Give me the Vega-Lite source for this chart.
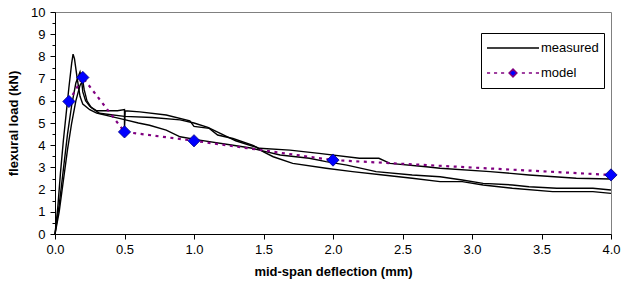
{
  "$schema": "https://vega.github.io/schema/vega-lite/v6.json",
  "width": 556,
  "height": 222,
  "autosize": {"type": "none"},
  "padding": {"left": 55, "top": 12, "right": 11, "bottom": 60},
  "background": "white",
  "config": {
    "view": {"stroke": "#808080", "strokeWidth": 1},
    "font": "Liberation Sans",
    "axis": {
      "labelFont": "Liberation Sans",
      "labelFontSize": 13,
      "labelColor": "#000000",
      "labelFlush": false,
      "labelOverlap": false,
      "titleFont": "Liberation Sans",
      "titleFontSize": 13,
      "titleFontWeight": "bold",
      "titleColor": "#000000",
      "domainColor": "#000000",
      "tickColor": "#000000",
      "grid": false
    }
  },
  "datasets": {
    "measured": [
      {"c": "A", "x": 0, "y": 0}, {"c": "A", "x": 0.02, "y": 1.2}, {"c": "A", "x": 0.04, "y": 2.8}, {"c": "A", "x": 0.06, "y": 4.2}, {"c": "A", "x": 0.08, "y": 5.4}, {"c": "A", "x": 0.1, "y": 6.6}, {"c": "A", "x": 0.12, "y": 7.7}, {"c": "A", "x": 0.13, "y": 8.1}, {"c": "A", "x": 0.14, "y": 7.9}, {"c": "A", "x": 0.16, "y": 7.0}, {"c": "A", "x": 0.18, "y": 6.2}, {"c": "A", "x": 0.2, "y": 5.85}, {"c": "A", "x": 0.25, "y": 5.6}, {"c": "A", "x": 0.3, "y": 5.45}, {"c": "A", "x": 0.4, "y": 5.3}, {"c": "A", "x": 0.5, "y": 5.15}, {"c": "A", "x": 0.6, "y": 5.0}, {"c": "A", "x": 0.68, "y": 4.9}, {"c": "A", "x": 0.8, "y": 4.68}, {"c": "A", "x": 0.9, "y": 4.38}, {"c": "A", "x": 1.04, "y": 4.23}, {"c": "A", "x": 1.28, "y": 4.0}, {"c": "A", "x": 1.42, "y": 3.86}, {"c": "A", "x": 1.47, "y": 3.78}, {"c": "A", "x": 1.62, "y": 3.56}, {"c": "A", "x": 1.83, "y": 3.41}, {"c": "A", "x": 1.95, "y": 3.26}, {"c": "A", "x": 2.1, "y": 3.1}, {"c": "A", "x": 2.31, "y": 2.81}, {"c": "A", "x": 2.57, "y": 2.66}, {"c": "A", "x": 2.77, "y": 2.58}, {"c": "A", "x": 2.93, "y": 2.43}, {"c": "A", "x": 3.08, "y": 2.28}, {"c": "A", "x": 3.29, "y": 2.21}, {"c": "A", "x": 3.41, "y": 2.13}, {"c": "A", "x": 3.61, "y": 2.06}, {"c": "A", "x": 3.87, "y": 2.06}, {"c": "A", "x": 4.0, "y": 1.98},
      {"c": "B", "x": 0, "y": 0}, {"c": "B", "x": 0.03, "y": 1.3}, {"c": "B", "x": 0.06, "y": 2.9}, {"c": "B", "x": 0.09, "y": 4.5}, {"c": "B", "x": 0.12, "y": 5.8}, {"c": "B", "x": 0.15, "y": 6.8}, {"c": "B", "x": 0.18, "y": 7.3}, {"c": "B", "x": 0.19, "y": 7.0}, {"c": "B", "x": 0.2, "y": 6.4}, {"c": "B", "x": 0.22, "y": 6.0}, {"c": "B", "x": 0.25, "y": 5.75}, {"c": "B", "x": 0.3, "y": 5.55}, {"c": "B", "x": 0.45, "y": 5.55}, {"c": "B", "x": 0.5, "y": 5.6}, {"c": "B", "x": 0.5, "y": 4.75}, {"c": "B", "x": 0.505, "y": 5.55}, {"c": "B", "x": 0.61, "y": 5.5}, {"c": "B", "x": 0.8, "y": 5.36}, {"c": "B", "x": 0.97, "y": 5.1}, {"c": "B", "x": 1.0, "y": 4.85}, {"c": "B", "x": 1.11, "y": 4.76}, {"c": "B", "x": 1.17, "y": 4.46}, {"c": "B", "x": 1.28, "y": 4.3}, {"c": "B", "x": 1.42, "y": 4.0}, {"c": "B", "x": 1.47, "y": 3.86}, {"c": "B", "x": 1.69, "y": 3.78}, {"c": "B", "x": 1.9, "y": 3.63}, {"c": "B", "x": 2.19, "y": 3.41}, {"c": "B", "x": 2.33, "y": 3.41}, {"c": "B", "x": 2.41, "y": 3.18}, {"c": "B", "x": 2.67, "y": 3.03}, {"c": "B", "x": 2.77, "y": 2.96}, {"c": "B", "x": 3.13, "y": 2.81}, {"c": "B", "x": 3.41, "y": 2.66}, {"c": "B", "x": 3.75, "y": 2.51}, {"c": "B", "x": 4.0, "y": 2.48},
      {"c": "C", "x": 0, "y": 0}, {"c": "C", "x": 0.03, "y": 1.0}, {"c": "C", "x": 0.06, "y": 2.4}, {"c": "C", "x": 0.09, "y": 3.8}, {"c": "C", "x": 0.12, "y": 5.0}, {"c": "C", "x": 0.15, "y": 6.0}, {"c": "C", "x": 0.18, "y": 6.7}, {"c": "C", "x": 0.2, "y": 6.9}, {"c": "C", "x": 0.21, "y": 6.5}, {"c": "C", "x": 0.23, "y": 6.0}, {"c": "C", "x": 0.26, "y": 5.7}, {"c": "C", "x": 0.32, "y": 5.44}, {"c": "C", "x": 0.5, "y": 5.3}, {"c": "C", "x": 0.7, "y": 5.25}, {"c": "C", "x": 0.9, "y": 5.14}, {"c": "C", "x": 1.0, "y": 5.0}, {"c": "C", "x": 1.1, "y": 4.8}, {"c": "C", "x": 1.2, "y": 4.5}, {"c": "C", "x": 1.3, "y": 4.2}, {"c": "C", "x": 1.45, "y": 3.9}, {"c": "C", "x": 1.5, "y": 3.7}, {"c": "C", "x": 1.57, "y": 3.48}, {"c": "C", "x": 1.71, "y": 3.18}, {"c": "C", "x": 1.95, "y": 2.96}, {"c": "C", "x": 2.14, "y": 2.81}, {"c": "C", "x": 2.36, "y": 2.66}, {"c": "C", "x": 2.57, "y": 2.51}, {"c": "C", "x": 2.77, "y": 2.36}, {"c": "C", "x": 2.93, "y": 2.36}, {"c": "C", "x": 3.08, "y": 2.21}, {"c": "C", "x": 3.29, "y": 2.06}, {"c": "C", "x": 3.58, "y": 1.91}, {"c": "C", "x": 3.87, "y": 1.91}, {"c": "C", "x": 4.0, "y": 1.83}
    ],
    "model": [
      {"x": 0.1, "y": 5.97}, {"x": 0.2, "y": 7.05}, {"x": 0.5, "y": 4.6}, {"x": 1.0, "y": 4.2}, {"x": 2.0, "y": 3.33}, {"x": 4.0, "y": 2.66}
    ]
  },
  "resolve": {"axis": {"y": "independent"}},
  "layer": [
    {
      "data": {"name": "measured"},
      "mark": {"type": "line", "strokeWidth": 1.4},
      "encoding": {
        "x": {"field": "x", "type": "quantitative", "scale": {"domain": [0, 4], "padding": 0, "nice": false},
          "axis": {"values": [0, 0.5, 1, 1.5, 2, 2.5, 3, 3.5, 4], "format": ".1f", "title": "mid-span deflection (mm)", "tickSize": 5, "labelPadding": 4, "titlePadding": 9}},
        "y": {"field": "y", "type": "quantitative", "scale": {"domain": [0, 10], "padding": 0, "nice": false},
          "axis": {"orient": "left", "values": [0, 1, 2, 3, 4, 5, 6, 7, 8, 9, 10], "format": "d", "title": "flexural load (kN)", "tickSize": 5, "labelPadding": 5, "titlePadding": 10}},
        "detail": {"field": "c"},
        "order": {"value": null},
        "color": {"datum": "measured", "type": "nominal",
          "scale": {"domain": ["measured", "model"], "range": ["#000000", "#800080"]},
          "legend": {
            "title": null, "orient": "none", "legendX": 426, "legendY": 21,
            "padding": 5, "strokeColor": "#000000", "fillColor": "#ffffff",
            "labelFont": "Liberation Sans", "labelFontSize": 13, "labelColor": "#000000",
            "symbolSize": 2704, "symbolStrokeWidth": 1.5, "labelOffset": 1,
            "clipHeight": 20, "rowPadding": 5,
            "encode": {"symbols": {"update": {
              "shape": {"signal": "datum.value === 'model' ? 'M-1,0H-0.88M-0.73,0H-0.61M-0.46,0H-0.34M0.34,0H0.46M0.61,0H0.73M0.88,0H1M0,-0.15L0.15,0L0,0.15L-0.15,0Z' : 'M-1,0H1'"},
              "stroke": {"signal": "datum.value === 'model' ? '#800080' : '#000000'"},
              "fill": {"signal": "datum.value === 'model' ? '#0000ff' : 'transparent'"},
              "strokeDash": {"value": []},
              "opacity": {"value": 1}
            }}}
          }}
      }
    },
    {
      "data": {"name": "model"},
      "mark": {"type": "line", "strokeWidth": 2.2, "strokeDash": [3, 4.5]},
      "encoding": {
        "x": {"field": "x", "type": "quantitative"},
        "y": {"field": "y", "type": "quantitative", "axis": null},
        "color": {"datum": "model", "type": "nominal"}
      }
    },
    {
      "data": {"name": "model"},
      "mark": {"type": "point", "shape": "diamond", "filled": true, "size": 150, "fill": "#0000ff", "stroke": "#000080", "strokeWidth": 0.8, "opacity": 1},
      "encoding": {
        "x": {"field": "x", "type": "quantitative"},
        "y": {"field": "y", "type": "quantitative",
          "axis": {"orient": "left", "values": [0.5, 1.5, 2.5, 3.5, 4.5, 5.5, 6.5, 7.5, 8.5, 9.5], "labels": false, "tickSize": 3, "domain": false, "title": null}}
      }
    }
  ]
}
